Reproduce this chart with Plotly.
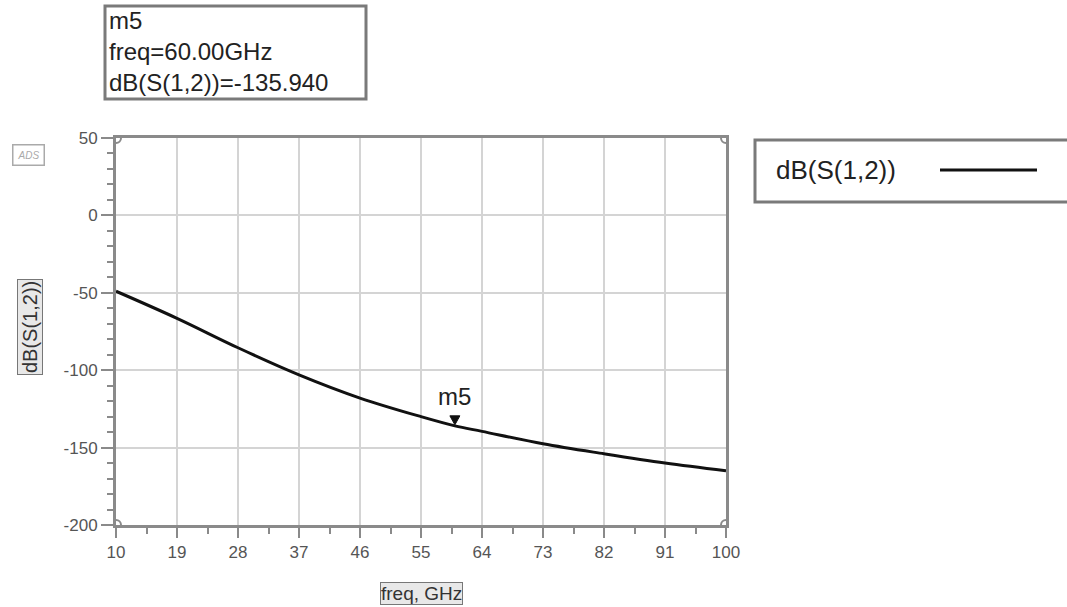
import plotly.graph_objects as go

# ---- data ----
freq_ghz = [10, 19, 28, 37, 46, 55, 60, 64, 73, 82, 91, 100]
db_s12 = [-49, -66.5, -85.5, -103, -118, -130, -135.94, -139.5, -147.5, -154, -160, -165]
x_ticks = [10, 19, 28, 37, 46, 55, 64, 73, 82, 91, 100]
y_ticks = [50, 0, -50, -100, -150, -200]
marker_freq = 60.0
marker_val = -135.94
marker_name = "m5"
trace_name = "dB(S(1,2))"

# ---- layout geometry (pixels) ----
FW, FH = 1067, 607
L, R, T, B = 116, 726, 138, 525
PW, PH = R - L, B - T

def px(x):
    return (x - L) / PW

def py(y):
    return (B - y) / PH

FONT = "Liberation Sans, Arial, sans-serif"
AXC = "#8a8a8a"
GRIDC = "#d4d4d4"

fig = go.Figure()
fig.add_trace(go.Scatter(
    x=freq_ghz, y=db_s12, mode="lines", name=trace_name,
    line=dict(color="#111111", width=3, shape="spline", smoothing=1.0),
    showlegend=False, hoverinfo="x+y",
))

fig.update_layout(
    width=FW, height=FH,
    margin=dict(l=L, r=FW - R, t=T, b=FH - B),
    paper_bgcolor="white", plot_bgcolor="white",
    font=dict(family=FONT, color="#333333"),
    showlegend=False,
)
fig.update_xaxes(
    range=[10, 100], tickmode="array", tickvals=x_ticks, ticktext=[str(v) for v in x_ticks],
    showgrid=True, gridcolor=GRIDC, gridwidth=2,
    showline=True, linecolor=AXC, linewidth=3, mirror=True,
    ticks="outside", ticklen=10, tickwidth=2, tickcolor=AXC,
    tickfont=dict(size=17, color="#555555", family=FONT),
    minor=dict(tickvals=[v + 4.5 for v in x_ticks[:-1]], ticks="outside", ticklen=6, tickwidth=2, tickcolor=AXC, showgrid=False),
    zeroline=False,
)
fig.update_yaxes(
    range=[-200, 50], tickmode="array", tickvals=y_ticks, ticktext=[str(v) for v in y_ticks],
    showgrid=True, gridcolor=GRIDC, gridwidth=2,
    showline=True, linecolor=AXC, linewidth=3, mirror=True,
    ticks="outside", ticklen=12, tickwidth=2, tickcolor=AXC,
    tickfont=dict(size=17, color="#555555", family=FONT),
    minor=dict(dtick=10, tick0=0, ticks="outside", ticklen=6, tickwidth=2, tickcolor=AXC, showgrid=False),
    zeroline=False,
)

shapes = []
# corner circles
for cx in (10, 100):
    for cy in (-200, 50):
        shapes.append(dict(type="circle", xref="x", yref="y", xsizemode="pixel", ysizemode="pixel",
                           xanchor=cx, yanchor=cy, x0=-5, x1=5, y0=-5, y1=5,
                           line=dict(color=AXC, width=2), fillcolor="rgba(0,0,0,0)"))
# marker triangle (tip on the curve)
shapes.append(dict(type="path", xref="x", yref="y", xsizemode="pixel", ysizemode="pixel",
                   xanchor=marker_freq, yanchor=marker_val, path="M -5 10 L 5 10 L 0 1 Z",
                   line=dict(color="#111111", width=1), fillcolor="#111111"))
# marker readout box
shapes.append(dict(type="rect", xref="paper", yref="paper", x0=px(105), x1=px(366), y0=py(99), y1=py(6),
                   line=dict(color="#7a7a7a", width=3), fillcolor="white"))
# legend box
shapes.append(dict(type="rect", xref="paper", yref="paper", x0=px(755), x1=px(1072), y0=py(202), y1=py(140),
                   line=dict(color="#7a7a7a", width=3), fillcolor="white"))
shapes.append(dict(type="line", xref="paper", yref="paper", x0=px(940), x1=px(1037), y0=py(170), y1=py(170),
                   line=dict(color="#111111", width=3)))
fig.update_layout(shapes=shapes)

ann = []
readout = [marker_name, "freq=%.2fGHz" % marker_freq, "%s=%.3f" % (trace_name, marker_val)]
ann.append(dict(xref="paper", yref="paper", x=px(107), y=py(51), xanchor="left", yanchor="middle", align="left",
                text="<br>".join(readout), showarrow=False, font=dict(size=24, color="#222222", family=FONT)))
ann.append(dict(xref="paper", yref="paper", x=px(774), y=py(170), xanchor="left", yanchor="middle",
                text=trace_name, showarrow=False, font=dict(size=26, color="#222222", family=FONT)))
ann.append(dict(xref="x", yref="y", x=marker_freq, y=marker_val, yshift=29, xanchor="center", yanchor="middle",
                text=marker_name, showarrow=False, font=dict(size=24, color="#222222", family=FONT)))
ann.append(dict(xref="paper", yref="paper", x=px(421), y=py(593), xanchor="center", yanchor="middle",
                text="freq, GHz", showarrow=False, font=dict(size=19, color="#333333", family=FONT),
                bgcolor="#e8e8e8", bordercolor="#777777", borderwidth=1, borderpad=0))
ann.append(dict(xref="paper", yref="paper", x=px(30), y=py(327), xanchor="center", yanchor="middle",
                text="dB(S(1,2))", textangle=-90, showarrow=False, font=dict(size=20, color="#333333", family=FONT),
                bgcolor="#e8e8e8", bordercolor="#777777", borderwidth=1, borderpad=1))
ann.append(dict(xref="paper", yref="paper", x=px(28), y=py(155), xanchor="center", yanchor="middle",
                text="<i>ADS</i>", showarrow=False, font=dict(size=10, color="#aaaaaa", family=FONT),
                bordercolor="#aaaaaa", borderwidth=1.5, borderpad=4))
fig.update_layout(annotations=ann)

fig.write_html("out.html")
